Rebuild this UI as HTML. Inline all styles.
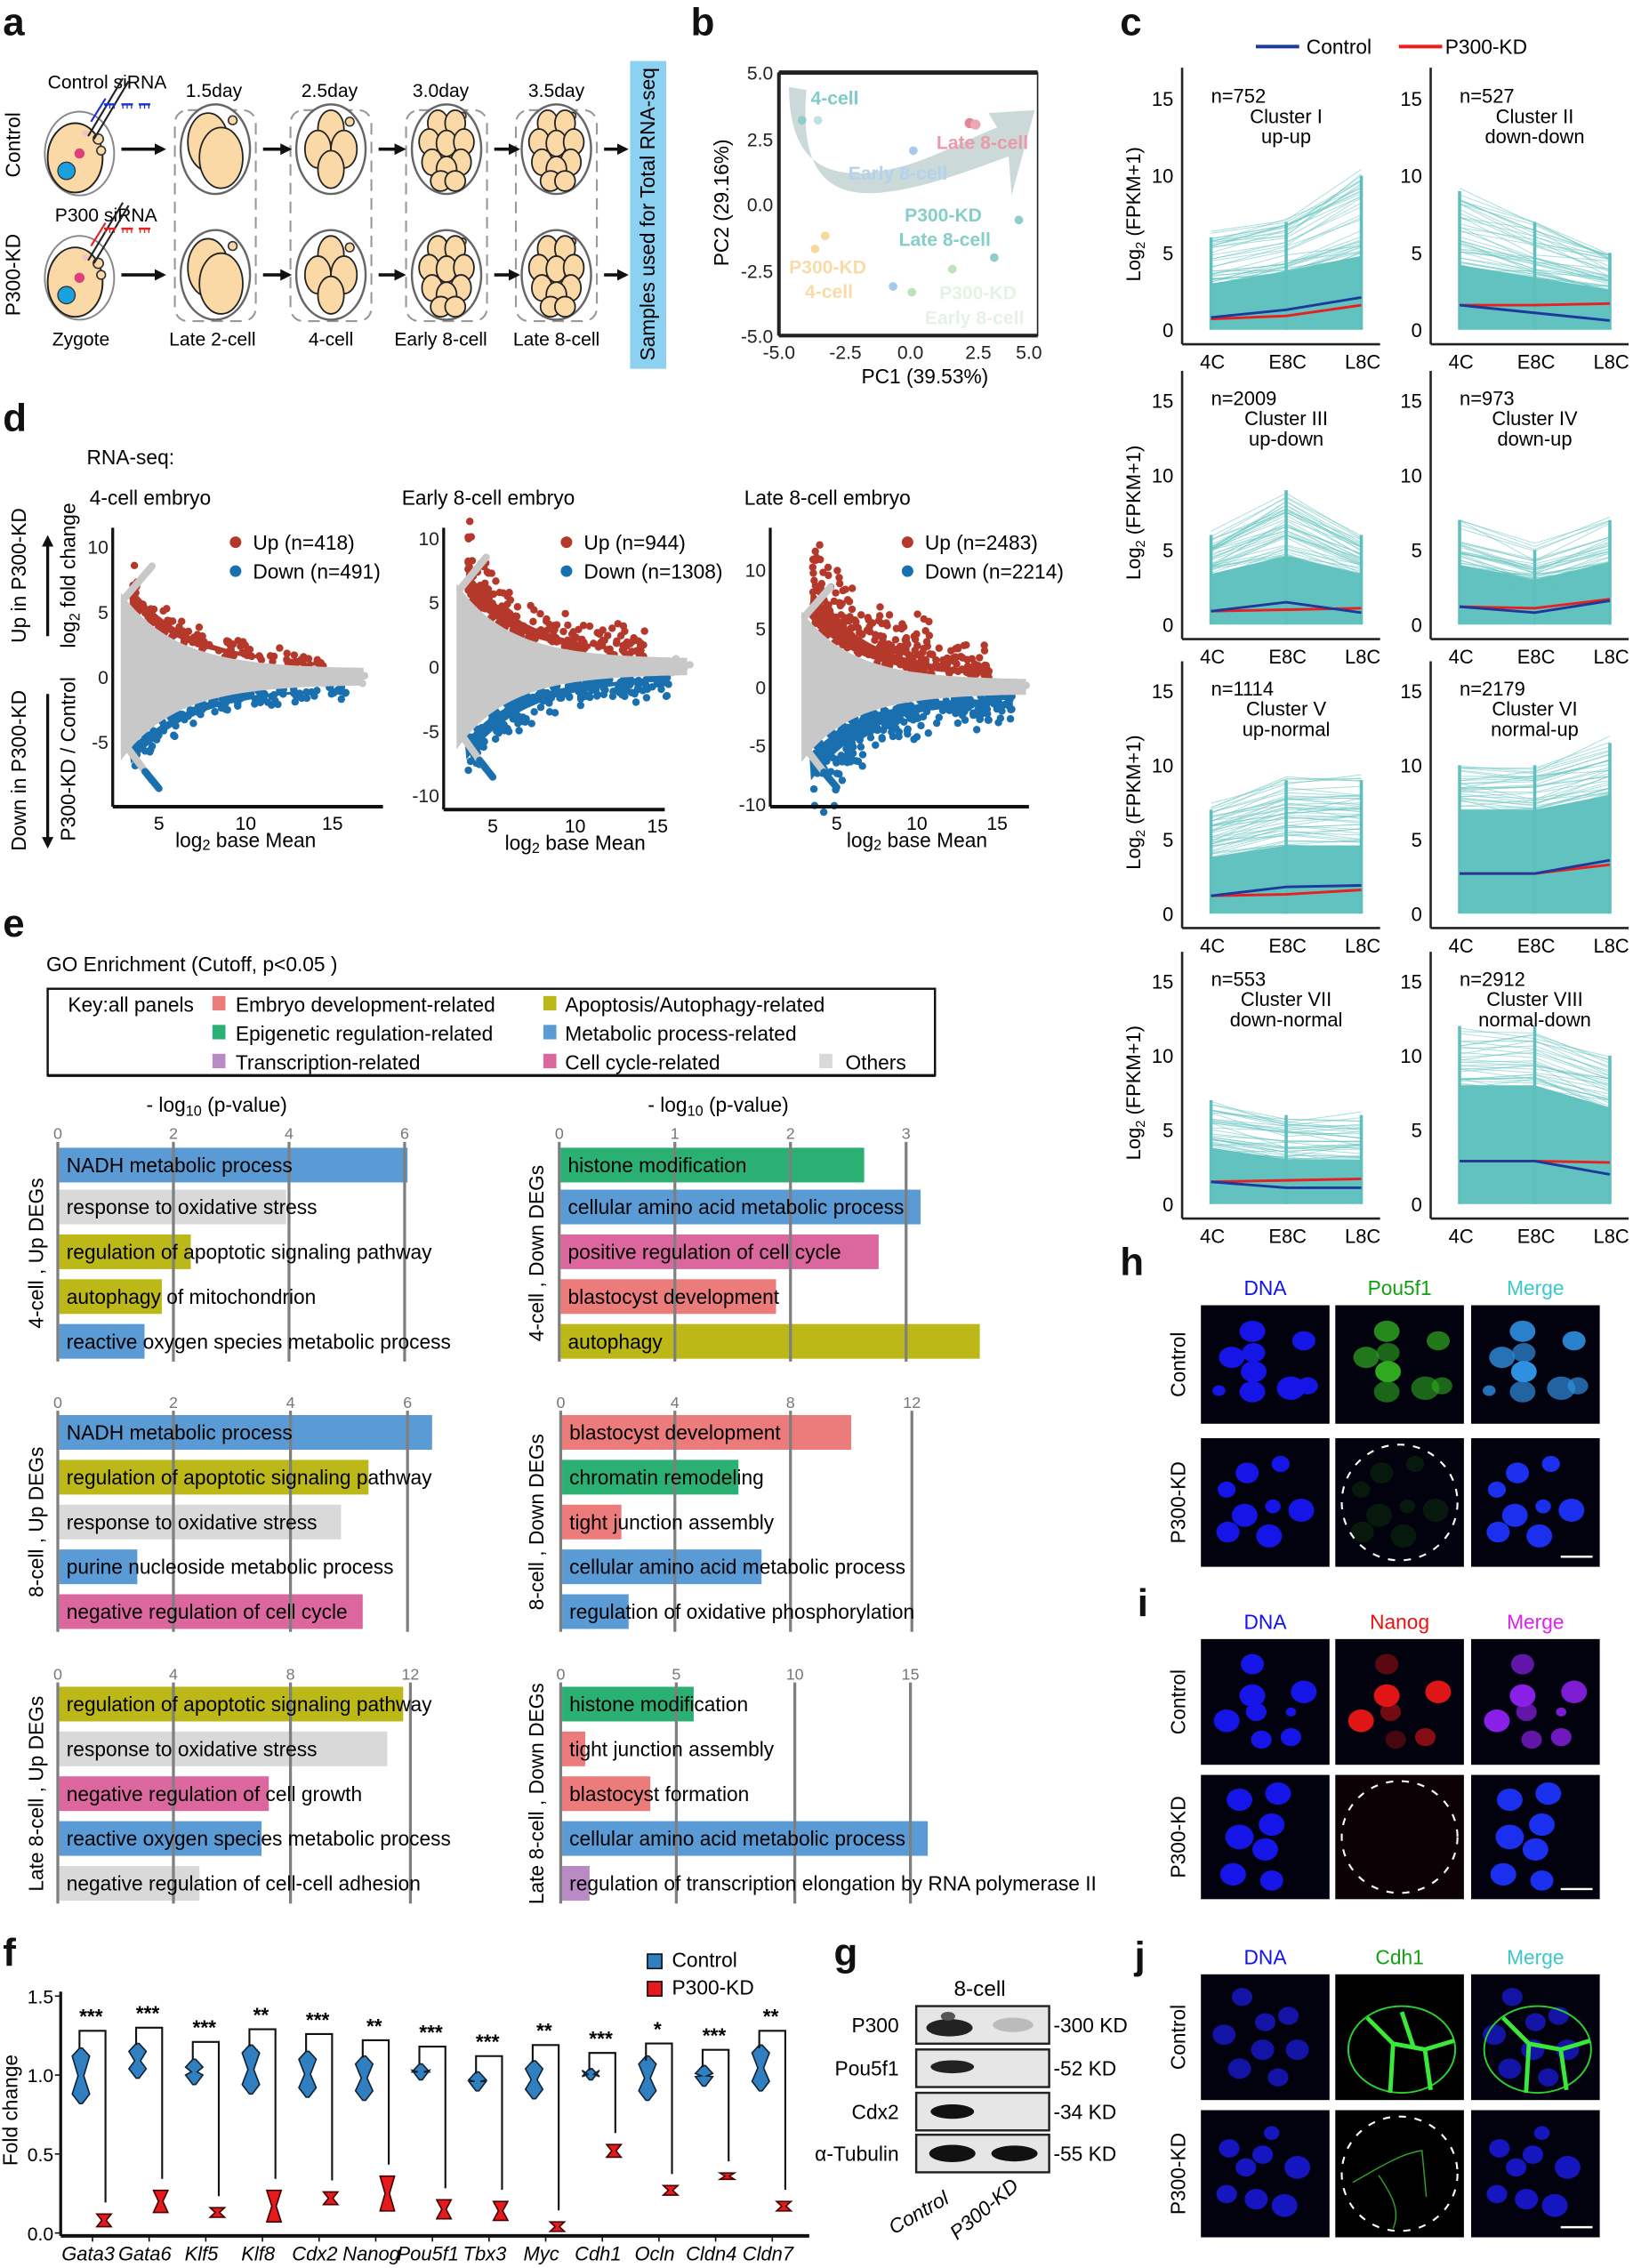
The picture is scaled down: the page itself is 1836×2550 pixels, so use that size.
<!DOCTYPE html>
<html><head><meta charset="utf-8">
<style>
html,body{margin:0;padding:0;background:#fff;}
svg{display:block;}
text{font-family:"Liberation Sans",Arial,sans-serif;}
</style></head>
<body>
<svg id="S" xmlns="http://www.w3.org/2000/svg" width="1836" height="2550" viewBox="0 0 1130 1569">
<defs>
<marker id="ah" markerWidth="8" markerHeight="8" refX="6" refY="4" orient="auto" markerUnits="userSpaceOnUse"><path d="M0,0 L8,4 L0,8 Z" fill="#111"/></marker>
</defs>
<rect width="1130" height="1569" fill="#fff"/>
<g font-weight="bold" font-size="27" fill="#111">
<text x="2" y="24">a</text><text x="478" y="24">b</text><text x="775" y="24">c</text>
<text x="2" y="298">d</text><text x="2" y="648">e</text><text x="2" y="1360">f</text>
<text x="577" y="1360">g</text><text x="775" y="882">h</text><text x="787" y="1118">i</text><text x="785" y="1362">j</text>
</g>

<g id="pa">
<text x="14" y="100" font-size="14" transform="rotate(-90 14 100)" text-anchor="middle">Control</text>
<text x="14" y="190" font-size="14" transform="rotate(-90 14 190)" text-anchor="middle">P300-KD</text>
<text x="33" y="61" font-size="13">Control siRNA</text>
<text x="38" y="153" font-size="13">P300 siRNA</text>
<g font-size="13" text-anchor="middle">
<text x="148" y="67">1.5day</text><text x="228" y="67">2.5day</text><text x="305" y="67">3.0day</text><text x="385" y="67">3.5day</text>
<text x="56" y="239">Zygote</text><text x="147" y="239">Late 2-cell</text><text x="229" y="239">4-cell</text><text x="305" y="239">Early 8-cell</text><text x="385" y="239">Late 8-cell</text>
</g>
<rect x="436" y="42" width="25" height="213" fill="#8dd1f2"/>
<text x="453" y="148" font-size="14" transform="rotate(-90 453 148)" text-anchor="middle">Samples used for Total RNA-seq</text>
</g>

<g id="pb">
<path d="M546,60 C546,110 570,125 610,118 C640,113 660,100 690,88 L684,78 L716,76 L700,135 L698,108 C670,118 640,130 610,133 C560,138 555,100 558,62 Z" fill="#a9bfbf" opacity="0.6"/>
<rect x="539" y="50" width="179" height="182" fill="none" stroke="#222" stroke-width="1"/>
<line x1="539" y1="50" x2="718" y2="50" stroke="#222" stroke-width="3"/>
<line x1="539" y1="50" x2="539" y2="232" stroke="#222" stroke-width="2.5"/>
<line x1="539" y1="232" x2="718" y2="232" stroke="#222" stroke-width="2.5"/>
<g font-size="13" text-anchor="end" fill="#222">
<text x="535" y="55">5.0</text><text x="535" y="101">2.5</text><text x="535" y="146">0.0</text><text x="535" y="192">-2.5</text><text x="535" y="237">-5.0</text>
</g>
<g font-size="13" text-anchor="middle" fill="#222">
<text x="539" y="248">-5.0</text><text x="585" y="248">-2.5</text><text x="630" y="248">0.0</text><text x="677" y="248">2.5</text><text x="712" y="248">5.0</text>
</g>
<text x="640" y="265" font-size="14" text-anchor="middle">PC1 (39.53%)</text>
<text x="504" y="140" font-size="14" transform="rotate(-90 504 140)" text-anchor="middle">PC2 (29.16%)</text>
<g font-size="13" font-weight="bold">
<text x="561" y="72" fill="#7fcaca">4-cell</text>
<text x="648" y="103" fill="#eb9aaa">Late 8-cell</text>
<text x="587" y="124" fill="#b3d2ec">Early 8-cell</text>
<text x="626" y="153" fill="#86cfc9">P300-KD</text>
<text x="622" y="170" fill="#86cfc9">Late 8-cell</text>
<text x="546" y="189" fill="#f8dca8">P300-KD</text>
<text x="557" y="206" fill="#f8dca8">4-cell</text>
<text x="650" y="207" fill="#e4f3e4">P300-KD</text>
<text x="640" y="224" fill="#e4f3e4">Early 8-cell</text>
</g>
<g>
<circle cx="555" cy="83" r="3" fill="#8fcccc"/><circle cx="566" cy="83" r="3" fill="#bfe3e3"/>
<circle cx="671" cy="85" r="3.5" fill="#e08898"/><circle cx="675" cy="86" r="3.5" fill="#eba8b4"/>
<circle cx="632" cy="104" r="3" fill="#a8c8ec"/>
<circle cx="705" cy="152" r="3" fill="#8fcccc"/><circle cx="688" cy="178" r="3" fill="#8fcccc"/>
<circle cx="571" cy="163" r="3" fill="#f7d9a0"/><circle cx="564" cy="172" r="3" fill="#f7d9a0"/>
<circle cx="659" cy="186" r="3" fill="#bde3bd"/><circle cx="618" cy="198" r="3" fill="#a8c8ec"/><circle cx="631" cy="202" r="3" fill="#bde3bd"/>
</g>
</g>

<line x1="869" y1="32" x2="899" y2="32" stroke="#1d3a9a" stroke-width="2.5"/>
<text x="904" y="37" font-size="14">Control</text>
<line x1="968" y1="32" x2="998" y2="32" stroke="#e8201f" stroke-width="2.5"/>
<text x="1000" y="37" font-size="14">P300-KD</text>
<g id="pc"></g>

<text x="60" y="321" font-size="14">RNA-seq:</text>
<text x="62" y="349" font-size="14">4-cell embryo</text>
<text x="278" y="349" font-size="14">Early 8-cell embryo</text>
<text x="515" y="349" font-size="14">Late 8-cell embryo</text>
<text x="18" y="398" font-size="14" transform="rotate(-90 18 398)" text-anchor="middle">Up in P300-KD</text>
<text x="18" y="533" font-size="14" transform="rotate(-90 18 533)" text-anchor="middle">Down in P300-KD</text>
<line x1="33" y1="440" x2="33" y2="372" stroke="#111" stroke-width="2" marker-end="url(#ah)"/>
<line x1="33" y1="480" x2="33" y2="585" stroke="#111" stroke-width="2" marker-end="url(#ah)"/>
<text x="52" y="398" font-size="14" transform="rotate(-90 52 398)" text-anchor="middle">log<tspan font-size="10" dy="3">2</tspan><tspan dy="-3"> fold change</tspan></text>
<text x="52" y="525" font-size="14" transform="rotate(-90 52 525)" text-anchor="middle">P300-KD / Control</text>
<g id="pd"></g>

<text x="32" y="672" font-size="14">GO Enrichment (Cutoff, p&lt;0.05 )</text>
<rect x="33" y="684" width="614" height="60" fill="#fff" stroke="#111" stroke-width="1.5"/>
<line x1="33" y1="744" x2="647" y2="744" stroke="#111" stroke-width="2"/>
<g font-size="14">
<text x="47" y="700">Key:all panels</text>
<rect x="147" y="689" width="9" height="10" fill="#ec7b7b"/><text x="163" y="700">Embryo development-related</text>
<rect x="376" y="689" width="9" height="10" fill="#bcb817"/><text x="391" y="700">Apoptosis/Autophagy-related</text>
<rect x="147" y="709" width="9" height="10" fill="#2bb074"/><text x="163" y="720">Epigenetic regulation-related</text>
<rect x="376" y="709" width="9" height="10" fill="#5b9bd5"/><text x="391" y="720">Metabolic process-related</text>
<rect x="147" y="729" width="9" height="10" fill="#b98bc4"/><text x="163" y="740">Transcription-related</text>
<rect x="376" y="729" width="9" height="10" fill="#db679e"/><text x="391" y="740">Cell cycle-related</text>
<rect x="567" y="729" width="9" height="10" fill="#d9d9d9"/><text x="585" y="740">Others</text>
</g>
<text x="150" y="769" font-size="14" text-anchor="middle">- log<tspan font-size="10" dy="3">10</tspan><tspan dy="-3"> (p-value)</tspan></text>
<text x="497" y="769" font-size="14" text-anchor="middle">- log<tspan font-size="10" dy="3">10</tspan><tspan dy="-3"> (p-value)</tspan></text>
<g id="pe"></g>

<rect x="448" y="1352" width="10" height="10" fill="#2f7fc1" stroke="#111" stroke-width="1"/>
<text x="465" y="1361" font-size="14">Control</text>
<rect x="448" y="1371" width="10" height="10" fill="#e41a1c" stroke="#111" stroke-width="1"/>
<text x="465" y="1380" font-size="14">P300-KD</text>
<text x="12" y="1460" font-size="14" transform="rotate(-90 12 1460)" text-anchor="middle">Fold change</text>
<g id="pf"></g>

<text x="678" y="1381" font-size="15" text-anchor="middle">8-cell</text>
<g id="pg"></g>

<g id="phij"></g>

<g id="pa2"></g>
</svg>
<script>
(function(){
var seed=12345;function R(){seed=(seed*16807)%2147483647;return (seed-1)/2147483646;}
function G(){return (R()+R()+R()+R()-2)/1.15;}
function set(id,s){document.getElementById(id).innerHTML=s;}
function zyg(cx,cy,col){
 var o='<ellipse cx="'+cx+'" cy="'+cy+'" rx="24" ry="29" fill="#fff" stroke="#888" stroke-width="1.2"/>';
 o+='<ellipse cx="'+(cx-3)+'" cy="'+(cy+3)+'" rx="19" ry="24" fill="#fad9a6" stroke="#222" stroke-width="1.2"/>';
 o+='<circle cx="'+(cx+13)+'" cy="'+(cy-10)+'" r="3.5" fill="#fad9a6" stroke="#333"/><circle cx="'+(cx+15)+'" cy="'+(cy-2)+'" r="3" fill="#fad9a6" stroke="#333"/>';
 o+='<circle cx="'+(cx-9)+'" cy="'+(cy+12)+'" r="6" fill="#1aa0de" stroke="#333" stroke-width="0.8"/>';
 o+='<circle cx="'+(cx+0)+'" cy="'+(cy)+'" r="3.5" fill="#e0407a"/>';
 o+='<circle cx="'+(cx+4)+'" cy="'+(cy-14)+'" r="2" fill="#f6c0c8"/>';
 o+='<line x1="'+(cx+6)+'" y1="'+(cy-12)+'" x2="'+(cx+30)+'" y2="'+(cy-52)+'" stroke="#222" stroke-width="1.3"/>';
 o+='<line x1="'+(cx+10)+'" y1="'+(cy-10)+'" x2="'+(cx+34)+'" y2="'+(cy-50)+'" stroke="#222" stroke-width="1.3"/>';
 o+='<line x1="'+(cx+8)+'" y1="'+(cy-22)+'" x2="'+(cx+18)+'" y2="'+(cy-38)+'" stroke="'+col+'" stroke-width="1.3"/>';
 for(var k=0;k<3;k++){var xx=cx+17+k*12;var yy=cy-34;o+='<line x1="'+xx+'" y1="'+yy+'" x2="'+(xx+8)+'" y2="'+yy+'" stroke="'+col+'" stroke-width="1.5"/>';
  for(var j=0;j<3;j++)o+='<line x1="'+(xx+1+j*3)+'" y1="'+yy+'" x2="'+(xx+1+j*3)+'" y2="'+(yy+3)+'" stroke="'+col+'" stroke-width="0.8"/>';}
 return o;
}
function emb(cx,cy,type){
 var o='<ellipse cx="'+cx+'" cy="'+cy+'" rx="24" ry="31" fill="#fff" stroke="#666" stroke-width="1.5"/>';
 var cells=[];
 if(type==2){cells=[[-5,-5,14,20],[4,6,15,21]];o+='<circle cx="'+(cx+12)+'" cy="'+(cy-20)+'" r="3" fill="#fad9a6" stroke="#333"/>';}
 else if(type==4){cells=[[0,-14,9,13],[-9,0,9,13],[9,0,9,13],[0,14,9,13]];o+='<circle cx="'+(cx+13)+'" cy="'+(cy-19)+'" r="3" fill="#fad9a6" stroke="#333"/>';}
 else {cells=[[-6,-18,7,9],[6,-18,7,9],[-12,-5,7,9],[0,-4,7,9],[12,-5,7,9],[-10,9,7,9],[10,9,7,9],[0,14,7,9],[-4,22,7,7],[6,22,7,7]];o+='<circle cx="'+(cx+11)+'" cy="'+(cy-23)+'" r="2.5" fill="#fad9a6" stroke="#333"/>';}
 cells.forEach(function(c){o+='<ellipse cx="'+(cx+c[0])+'" cy="'+(cy+c[1])+'" rx="'+c[2]+'" ry="'+c[3]+'" fill="#fad9a6" stroke="#222" stroke-width="1.1"/>';});
 return o;
}
var a='';
a+=zyg(55,106,'#1b2fd8');a+=zyg(55,192,'#e8201f');
var ex=[149,229,309,385],ty=[2,4,8,8];
for(var i=0;i<4;i++){a+='<rect x="'+(ex[i]-28)+'" y="76" width="56" height="146" rx="9" fill="none" stroke="#999" stroke-width="1.3" stroke-dasharray="8,5"/>';
 a+=emb(ex[i],103,ty[i]);a+=emb(ex[i],190,ty[i]);}
var ar=[[84,113],[182,200],[262,279],[342,358],[418,433]];
ar.forEach(function(p){[103,190].forEach(function(y){a+='<line x1="'+p[0]+'" y1="'+y+'" x2="'+p[1]+'" y2="'+y+'" stroke="#111" stroke-width="2.2" marker-end="url(#ah)"/>';});});
set('pa2',a);

var rows=[[228,10.67],[432,10.33],[632,10.27],[833,10.27]];
var cols=[818,990];
var info=[
 ['n=752','Cluster I','up-up',[0.8,1.3,2.1],[0.7,0.9,1.6],'uu'],
 ['n=527','Cluster II','down-down',[1.6,1.1,0.6],[1.6,1.6,1.7],'dd'],
 ['n=2009','Cluster III','up-down',[0.9,1.5,0.8],[0.9,1.0,1.1],'ud'],
 ['n=973','Cluster IV','down-up',[1.2,0.8,1.6],[1.2,1.1,1.7],'du'],
 ['n=1114','Cluster V','up-normal',[1.2,1.8,1.9],[1.2,1.3,1.6],'un'],
 ['n=2179','Cluster VI','normal-up',[2.7,2.7,3.6],[2.7,2.7,3.3],'nu'],
 ['n=553','Cluster VII','down-normal',[1.5,1.1,1.1],[1.5,1.6,1.7],'dn'],
 ['n=2912','Cluster VIII','normal-down',[2.9,2.9,2.0],[2.9,2.9,2.8],'nd']];
var c='';
for(var k=0;k<8;k++){
 var r=rows[Math.floor(k/2)],ox=cols[k%2],z=r[0],u=r[1];
 var xs=[ox+20,ox+72,ox+124];
 function Y(v){return z-v*u;}
 var inf=info[k],p=inf[5];
 var top={uu:[3,3.8,4.8],dd:[4.2,3.4,2.6],ud:[3.4,4.6,3.4],du:[4,3,4.2],un:[3.8,4.6,4.6],nu:[7,7,8],dn:[3.8,3,3],nd:[8,8,6.5]}[p];
 c+='<polygon points="'+xs[0]+','+z+' '+xs[0]+','+Y(top[0])+' '+xs[1]+','+Y(top[1])+' '+xs[2]+','+Y(top[2])+' '+xs[2]+','+z+'" fill="#62c2c0"/>';
 var hi={uu:[6,7,10],dd:[9,7,5],ud:[6,9,6],du:[7,5,7],un:[7,9,9],nu:[10,10,11.5],dn:[7,6,6],nd:[12,12,10]}[p];
 for(var j=0;j<60;j++){
  var f=Math.pow(R(),1.5);var v=[];
  for(var m=0;m<3;m++){v.push(Math.max(0,top[m]*0.7+f*(hi[m]-top[m]*0.7)+G()*0.6));}
  c+='<polyline points="'+xs[0]+','+Y(v[0]).toFixed(1)+' '+xs[1]+','+Y(v[1]).toFixed(1)+' '+xs[2]+','+Y(v[2]).toFixed(1)+'" fill="none" stroke="#62c2c0" stroke-width="0.6" opacity="0.55"/>';
 }
 for(var m=0;m<3;m++){c+='<line x1="'+xs[m]+'" y1="'+z+'" x2="'+xs[m]+'" y2="'+Y(hi[m]).toFixed(1)+'" stroke="#5fbfbd" stroke-width="2.2"/>';}
 var b=inf[3],rd=inf[4];
 c+='<polyline points="'+xs[0]+','+Y(rd[0])+' '+xs[1]+','+Y(rd[1])+' '+xs[2]+','+Y(rd[2])+'" fill="none" stroke="#e8201f" stroke-width="1.8"/>';
 c+='<polyline points="'+xs[0]+','+Y(b[0])+' '+xs[1]+','+Y(b[1])+' '+xs[2]+','+Y(b[2])+'" fill="none" stroke="#1d3a9a" stroke-width="1.8"/>';
 c+='<line x1="'+ox+'" y1="'+(z-17*u)+'" x2="'+ox+'" y2="'+(z+10)+'" stroke="#222" stroke-width="1.6"/>';
 c+='<line x1="'+ox+'" y1="'+(z+10)+'" x2="'+(ox+137)+'" y2="'+(z+10)+'" stroke="#222" stroke-width="1.6"/>';
 [0,5,10,15].forEach(function(t){c+='<text x="'+(ox-6)+'" y="'+(Y(t)+5)+'" font-size="13.5" text-anchor="end">'+t+'</text>';});
 ['4C','E8C','L8C'].forEach(function(t,m){c+='<text x="'+(xs[m]+1)+'" y="'+(z+27)+'" font-size="13.5" text-anchor="middle">'+t+'</text>';});
 c+='<text x="'+(ox+20)+'" y="'+(Y(15)+3)+'" font-size="13.5">'+inf[0]+'</text>';
 c+='<text x="'+(ox+72)+'" y="'+(Y(15)+17)+'" font-size="13.5" text-anchor="middle">'+inf[1]+'</text>';
 c+='<text x="'+(ox+72)+'" y="'+(Y(15)+31)+'" font-size="13.5" text-anchor="middle">'+inf[2]+'</text>';
 if(k%2==0){var yy=z-7.5*u;c+='<text x="789" y="'+yy+'" font-size="13.5" text-anchor="middle" transform="rotate(-90 789 '+yy+')">Log<tspan font-size="9" dy="3">2</tspan><tspan dy="-3"> (FPKM+1)</tspan></text>';}
}
set('pc',c);

var plots=[
 {ox:78,right:265,xb:110,xs:12,z:468,ys:9,ticks:[10,5,0,-5],xax:558,top:365,leg:[163,375],up:'Up (n=418)',dn:'Down (n=491)',dens:1},
 {ox:307,right:460,xb:341,xs:11.4,z:461,ys:8.9,ticks:[10,5,0,-5,-10],xax:560,top:365,leg:[392,375],up:'Up (n=944)',dn:'Down (n=1308)',dens:1.6},
 {ox:533,right:712,xb:579,xs:11.1,z:475,ys:8.1,ticks:[10,5,0,-5,-10],xax:558,top:365,leg:[628,375],up:'Up (n=2483)',dn:'Down (n=2214)',dens:2.4}];
var d='';
plots.forEach(function(P){
 function X(v){return P.xb+(v-5)*P.xs;} function Y(v){return P.z-v*P.ys;}
 function w(x){return 5.5*Math.exp(-(x-3)/3.2)+0.6;}
 var pts=[],pts2=[];
 for(var x=2.8;x<=17;x+=0.4){pts.push(X(x).toFixed(1)+','+Y(w(x)).toFixed(1));pts2.unshift(X(x).toFixed(1)+','+Y(-w(x)).toFixed(1));}
 var g2='';
 var nR=Math.round(120*P.dens);
 for(var i=0;i<nR;i++){var x=3.5+Math.pow(R(),1.4)*11;var y=w(x)+Math.abs(G())*(1.5+3*Math.exp(-(x-3)/4))*P.dens*0.7;
  g2+='<circle cx="'+X(x).toFixed(1)+'" cy="'+Y(y).toFixed(1)+'" r="2.6" fill="#b5392b"/>';}
 for(var i=0;i<nR;i++){var x=3.5+Math.pow(R(),1.2)*12.5;var y=-(w(x)+Math.abs(G())*(1.2+2.5*Math.exp(-(x-3)/4))*P.dens*0.7);
  g2+='<circle cx="'+X(x).toFixed(1)+'" cy="'+Y(y).toFixed(1)+'" r="2.6" fill="#1a6faf"/>';}
 var rb=[],bb=[];
 for(var x=3.3;x<=(P.dens>2?13:11);x+=0.4){rb.push(X(x).toFixed(1)+','+Y(w(x)+0.3).toFixed(1));}
 for(var x=(P.dens>2?13:11);x>=3.3;x-=0.4){rb.push(X(x).toFixed(1)+','+Y(w(x)+0.3+P.dens*1.2*Math.exp(-(x-3)/5)).toFixed(1));}
 for(var x=3.3;x<=(P.dens>2?15:13);x+=0.4){bb.push(X(x).toFixed(1)+','+Y(-w(x)-0.3).toFixed(1));}
 for(var x=(P.dens>2?15:13);x>=3.3;x-=0.4){bb.push(X(x).toFixed(1)+','+Y(-w(x)-0.3-P.dens*1.0*Math.exp(-(x-3)/6)).toFixed(1));}
 d+='<polygon points="'+rb.join(' ')+'" fill="#b5392b"/><polygon points="'+bb.join(' ')+'" fill="#1a6faf"/>';
 d+=g2;
 d+='<line x1="'+X(3)+'" y1="'+Y(6)+'" x2="'+X(4.6)+'" y2="'+Y(8.5)+'" stroke="#c8c8c8" stroke-width="5" stroke-linecap="round"/>';
 d+='<line x1="'+X(3.2)+'" y1="'+Y(-5.5)+'" x2="'+X(4.6)+'" y2="'+Y(-8)+'" stroke="#c8c8c8" stroke-width="5" stroke-linecap="round"/>';
 d+='<line x1="'+X(4.2)+'" y1="'+Y(-7.3)+'" x2="'+X(5.0)+'" y2="'+Y(-8.6)+'" stroke="#1a6faf" stroke-width="5" stroke-linecap="round"/>';
 d+='<polygon points="'+pts.join(' ')+' '+pts2.join(' ')+'" fill="#c8c8c8"/>';
 for(var i=0;i<40;i++){var x=3+R()*14;var y=G()*w(x)*0.6;d+='<circle cx="'+X(x).toFixed(1)+'" cy="'+Y(y).toFixed(1)+'" r="2.6" fill="#c8c8c8"/>';}
 d+='<line x1="'+P.ox+'" y1="'+P.top+'" x2="'+P.ox+'" y2="'+P.xax+'" stroke="#111" stroke-width="2"/>';
 d+='<line x1="'+P.ox+'" y1="'+P.xax+'" x2="'+P.right+'" y2="'+P.xax+'" stroke="#111" stroke-width="2.5"/>';
 P.ticks.forEach(function(t){d+='<text x="'+(P.ox-3)+'" y="'+(Y(t)+5)+'" font-size="13" text-anchor="end" fill="#222">'+t+'</text>';});
 [5,10,15].forEach(function(t){d+='<text x="'+X(t)+'" y="'+(P.xax+16)+'" font-size="13" text-anchor="middle">'+t+'</text>';});
 d+='<text x="'+X(10)+'" y="'+(P.xax+28)+'" font-size="14" text-anchor="middle">log<tspan font-size="10" dy="2">2</tspan><tspan dy="-2"> base Mean</tspan></text>';
 d+='<circle cx="'+P.leg[0]+'" cy="'+P.leg[1]+'" r="4" fill="#b5392b"/><text x="'+(P.leg[0]+12)+'" y="'+(P.leg[1]+5)+'" font-size="14">'+P.up+'</text>';
 d+='<circle cx="'+P.leg[0]+'" cy="'+(P.leg[1]+20)+'" r="4" fill="#1a6faf"/><text x="'+(P.leg[0]+12)+'" y="'+(P.leg[1]+25)+'" font-size="14">'+P.dn+'</text>';
});
set('pd',d);

var C={b:'#5b9bd5',g:'#d9d9d9',o:'#bcb817',gr:'#2bb074',p:'#db679e',s:'#ec7b7b',pu:'#b98bc4'};
var blocks=[
 {x0:40,ticks:[[0,40],[2,120],[4,200],[6,280]],ty:788,bars:[806,835,866,897,928],label:'4-cell , Up DEGs',lx:30,
  items:[['NADH metabolic process',C.b,282],['response to oxidative stress',C.g,198],['regulation of apoptotic signaling pathway',C.o,132],['autophagy of mitochondrion',C.o,112],['reactive oxygen species metabolic process',C.b,100]]},
 {x0:387,ticks:[[0,387],[1,467],[2,547],[3,627]],ty:788,bars:[806,835,866,897,928],label:'4-cell , Down DEGs',lx:376,
  items:[['histone modification',C.gr,598],['cellular amino acid metabolic process',C.b,637],['positive regulation of cell cycle',C.p,608],['blastocyst development',C.s,537],['autophagy',C.o,678]]},
 {x0:40,ticks:[[0,40],[2,120],[4,201],[6,282]],ty:974,bars:[991,1022,1053,1084,1115],label:'8-cell , Up DEGs',lx:30,
  items:[['NADH metabolic process',C.b,299],['regulation of apoptotic signaling pathway',C.o,255],['response to oxidative stress',C.g,236],['purine nucleoside metabolic process',C.b,95],['negative regulation of cell cycle',C.p,251]]},
 {x0:388,ticks:[[0,388],[4,467],[8,547],[12,631]],ty:974,bars:[991,1022,1053,1084,1115],label:'8-cell , Down DEGs',lx:376,
  items:[['blastocyst development',C.s,589],['chromatin remodeling',C.gr,511],['tight junction assembly',C.s,430],['cellular amino acid metabolic process',C.b,527],['regulation of oxidative phosphorylation',C.b,435]]},
 {x0:40,ticks:[[0,40],[4,120],[8,201],[12,284]],ty:1162,bars:[1179,1210,1241,1272,1303],label:'Late 8-cell , Up DEGs',lx:30,
  items:[['regulation of apoptotic signaling pathway',C.o,279],['response to oxidative stress',C.g,268],['negative regulation of cell growth',C.p,186],['reactive oxygen species metabolic process',C.b,181],['negative regulation of cell-cell adhesion',C.g,138]]},
 {x0:388,ticks:[[0,388],[5,468],[10,550],[15,630]],ty:1162,bars:[1179,1210,1241,1272,1303],label:'Late 8-cell , Down DEGs',lx:376,
  items:[['histone modification',C.gr,480],['tight junction assembly',C.s,405],['blastocyst formation',C.s,450],['cellular amino acid metabolic process',C.b,642],['regulation of transcription elongation by RNA polymerase II',C.pu,408]]}];
var e='';
blocks.forEach(function(B){
 var bot=B.bars[4]+14;
 B.items.forEach(function(it,i){e+='<rect x="'+(B.x0+1)+'" y="'+(B.bars[i]-12)+'" width="'+(it[2]-B.x0-1)+'" height="24" fill="'+it[1]+'"/>';});
 B.ticks.forEach(function(t){e+='<line x1="'+t[1]+'" y1="'+(B.ty+2)+'" x2="'+t[1]+'" y2="'+bot+'" stroke="#7f7f7f" stroke-width="2"/>';
  e+='<text x="'+t[1]+'" y="'+B.ty+'" font-size="11" text-anchor="middle" fill="#777">'+t[0]+'</text>';});
 B.items.forEach(function(it,i){e+='<text x="'+(B.x0+6)+'" y="'+(B.bars[i]+5)+'" font-size="14">'+it[0]+'</text>';});
 var cy=(B.bars[0]+B.bars[4])/2;
 e+='<text x="'+B.lx+'" y="'+cy+'" font-size="14" text-anchor="middle" transform="rotate(-90 '+B.lx+' '+cy+')">'+B.label+'</text>';
});
set('pe',e);

var f='';
function FY(v){return 1545-v*109.3;}
f+='<line x1="42" y1="1378" x2="42" y2="1547" stroke="#111" stroke-width="2"/>';
f+='<line x1="42" y1="1547" x2="560" y2="1547" stroke="#111" stroke-width="2.5"/>';
[['1.5',1.5],['1.0',1],['0.5',0.5],['0.0',0]].forEach(function(t){f+='<text x="37" y="'+(FY(t[1])+5)+'" font-size="13" text-anchor="end">'+t[0]+'</text>';f+='<line x1="38" y1="'+FY(t[1])+'" x2="42" y2="'+FY(t[1])+'" stroke="#111"/>';});
var genes=['Gata3','Gata6','Klf5','Klf8','Cdx2','Nanog','Pou5f1','Tbx3','Myc','Cdh1','Ocln','Cldn4','Cldn7'];
var kd=[0.08,0.2,0.13,0.17,0.22,0.25,0.15,0.14,0.04,0.52,0.27,0.36,0.17];
var kdr=[0.04,0.07,0.03,0.1,0.04,0.11,0.06,0.06,0.03,0.04,0.03,0.02,0.03];
var cr=[[0.82,1.17],[0.98,1.2],[0.94,1.1],[0.88,1.19],[0.86,1.15],[0.84,1.12],[0.97,1.07],[0.9,1.02],[0.85,1.09],[0.97,1.04],[0.84,1.12],[0.93,1.06],[0.9,1.19]];
var stars=['***','***','***','**','***','**','***','***','**','***','*','***','**'];
var bt=[1.28,1.3,1.21,1.29,1.26,1.22,1.18,1.12,1.19,1.14,1.2,1.16,1.28];
for(var i=0;i<13;i++){
 var cx=56+i*39.2,kx=cx+16;
 var a0=cr[i][0],a1=cr[i][1],mid=(a0+a1)/2;
 f+='<path d="M'+(cx-1)+','+FY(a1)+' L'+(cx+1)+','+FY(a1)+' L'+(cx+6)+','+FY(a1-0.05)+' L'+(cx+2)+','+FY(mid)+' L'+(cx+6)+','+FY(a0+0.06)+' L'+(cx+1)+','+FY(a0)+' L'+(cx-1)+','+FY(a0)+' L'+(cx-6)+','+FY(a0+0.06)+' L'+(cx-2)+','+FY(mid)+' L'+(cx-6)+','+FY(a1-0.05)+' Z" fill="#2f7fc1" stroke="#123" stroke-width="1"/>';
 var k0=kd[i]-kdr[i],k1=kd[i]+kdr[i];
 f+='<path d="M'+(kx-5)+','+FY(k1)+' L'+(kx+5)+','+FY(k1)+' L'+(kx+1.5)+','+FY(kd[i])+' L'+(kx+5)+','+FY(k0)+' L'+(kx-5)+','+FY(k0)+' L'+(kx-1.5)+','+FY(kd[i])+' Z" fill="#e41a1c" stroke="#400" stroke-width="1"/>';
 var by=FY(bt[i]);
 f+='<polyline points="'+(cx-1)+','+(by+12)+' '+(cx-1)+','+by+' '+(kx+1)+','+by+' '+(kx+1)+','+(FY(k1)-8)+'" fill="none" stroke="#111" stroke-width="1.3"/>';
 f+='<text x="'+(cx+7)+'" y="'+(by-5)+'" font-size="14" text-anchor="middle" font-weight="bold">'+stars[i]+'</text>';
 f+='<line x1="'+(cx+8)+'" y1="1547" x2="'+(cx+8)+'" y2="1551" stroke="#111"/>';
 f+='<text x="'+(cx+5)+'" y="1564" font-size="13.5" font-style="italic" text-anchor="middle">'+genes[i]+'</text>';
}
set('pf',f);

var g='';var rowsG=[[1388,'P300','-300 KD'],[1418,'Pou5f1','-52 KD'],[1448,'Cdx2','-34 KD'],[1477,'α-Tubulin','-55 KD']];
rowsG.forEach(function(r,i){
 g+='<rect x="634" y="'+r[0]+'" width="92" height="26" fill="#e6e6e6" stroke="#222" stroke-width="1.5"/>';
 g+='<text x="622" y="'+(r[0]+18)+'" font-size="14" text-anchor="end">'+r[1]+'</text>';
 g+='<text x="729" y="'+(r[0]+18)+'" font-size="14">'+r[2]+'</text>';
});
g+='<ellipse cx="657" cy="1403" rx="16" ry="6" fill="#222"/><ellipse cx="656" cy="1395" rx="5" ry="3" fill="#555"/><ellipse cx="701" cy="1401" rx="14" ry="5" fill="#bbb"/>';
g+='<ellipse cx="659" cy="1430" rx="15" ry="4.5" fill="#222"/>';
g+='<ellipse cx="659" cy="1461" rx="15" ry="5" fill="#111"/>';
g+='<ellipse cx="659" cy="1490" rx="16" ry="6" fill="#111"/><ellipse cx="702" cy="1490" rx="16" ry="5.5" fill="#111"/>';
g+='<text x="638" y="1535" font-size="14" font-style="italic" text-anchor="middle" transform="rotate(-30 638 1535)">Control</text>';
g+='<text x="684" y="1532" font-size="14" font-style="italic" text-anchor="middle" transform="rotate(-40 684 1532)">P300-KD</text>';
set('pg',g);

var h='';
var colX=[831,924,1018],W=89;
function hdr(y,names,colors){names.forEach(function(n,i){h+='<text x="'+(colX[i]+W/2)+'" y="'+y+'" font-size="14" text-anchor="middle" fill="'+colors[i]+'">'+n+'</text>';});}
function rowLab(y0,y1,t){var cy=(y0+y1)/2;h+='<text x="820" y="'+cy+'" font-size="14" text-anchor="middle" transform="rotate(-90 820 '+cy+')">'+t+'</text>';}
var nucA=[[0.4,0.22,0.1],[0.8,0.3,0.09],[0.24,0.44,0.1],[0.41,0.4,0.09],[0.41,0.56,0.1],[0.4,0.73,0.1],[0.7,0.7,0.11],[0.83,0.68,0.08],[0.14,0.72,0.05]];
var nucB=[[0.36,0.27,0.09],[0.62,0.2,0.07],[0.2,0.4,0.07],[0.34,0.6,0.1],[0.56,0.53,0.06],[0.78,0.56,0.1],[0.21,0.73,0.09],[0.53,0.76,0.1]];
function panel(x,y,hh,nucs,fill,op){var o='<rect x="'+x+'" y="'+y+'" width="'+W+'" height="'+hh+'" fill="#02020f"/>';
 nucs.forEach(function(n,idx){var o2=op?op[idx%op.length]:1;o+='<ellipse cx="'+(x+n[0]*W)+'" cy="'+(y+n[1]*hh)+'" rx="'+(n[2]*W)+'" ry="'+(n[2]*hh*0.9)+'" fill="'+fill+'" opacity="'+o2+'"/>';});return o;}
function dashed(x,y,hh){return '<ellipse cx="'+(x+W/2)+'" cy="'+(y+hh/2)+'" rx="'+(W*0.45)+'" ry="'+(hh*0.45)+'" fill="none" stroke="#fff" stroke-width="1.3" stroke-dasharray="5,6"/>';}
function scale(x,y,hh){return '<line x1="'+(x+W-27)+'" y1="'+(y+hh-7)+'" x2="'+(x+W-5)+'" y2="'+(y+hh-7)+'" stroke="#fff" stroke-width="1.5"/>';}
hdr(896,['DNA','Pou5f1','Merge'],['#1111ee','#11a011','#3cc8c8']);
var r1=[903,985],r2=[995,1084];
rowLab(r1[0],r1[1],'Control');rowLab(r2[0],r2[1],'P300-KD');
h+=panel(colX[0],r1[0],82,nucA,'#1515e8');
h+=panel(colX[1],r1[0],82,nucA,'#2faa20',[0.8,0.7,0.7,0.6,1,0.6,0.6,0.6,0]);
h+=panel(colX[2],r1[0],82,nucA,'#2f8fe0',[0.9,0.9,0.8,0.7,1,0.7,0.7,0.7,0.8]);
h+=panel(colX[0],r2[0],89,nucB,'#1515e8');
h+=panel(colX[1],r2[0],89,nucB,'#0c300c',[0.5]);h+=dashed(colX[1],r2[0],89);
h+=panel(colX[2],r2[0],89,nucB,'#1a30ee');h+=scale(colX[2],r2[0],89);
hdr(1127,['DNA','Nanog','Merge'],['#1111ee','#ee1111','#dd22ee']);
var r3=[1134,1221],r4=[1228,1314];
rowLab(r3[0],r3[1],'Control');rowLab(r4[0],r4[1],'P300-KD');
var nucC=[[0.4,0.2,0.09],[0.4,0.45,0.1],[0.8,0.42,0.1],[0.43,0.58,0.08],[0.2,0.65,0.1],[0.47,0.8,0.08],[0.7,0.78,0.08],[0.7,0.58,0.04]];
var nucD=[[0.3,0.2,0.1],[0.6,0.15,0.1],[0.55,0.4,0.1],[0.3,0.5,0.11],[0.5,0.6,0.1],[0.25,0.8,0.1],[0.55,0.85,0.09]];
h+=panel(colX[0],r3[0],87,nucC,'#1515e8');
h+=panel(colX[1],r3[0],87,nucC,'#e01515',[0.4,1,1,0.5,1,0.3,0.6,0]);
h+=panel(colX[2],r3[0],87,nucC,'#8a20e8',[0.7,1,0.9,0.7,1,0.7,0.8,0.9]);
h+=panel(colX[0],r4[0],86,nucD,'#1515e8');
h+='<rect x="'+colX[1]+'" y="'+r4[0]+'" width="'+W+'" height="86" fill="#0c0205"/>'+dashed(colX[1],r4[0],86);
h+=panel(colX[2],r4[0],86,nucD,'#1a30ee');h+=scale(colX[2],r4[0],86);
hdr(1359,['DNA','Cdh1','Merge'],['#1111ee','#11a011','#3cc8c8']);
var r5=[1366,1453],r6=[1460,1548];
rowLab(r5[0],r5[1],'Control');rowLab(r6[0],r6[1],'P300-KD');
var nucE=[[0.32,0.18,0.08],[0.5,0.38,0.08],[0.68,0.33,0.08],[0.18,0.48,0.09],[0.48,0.6,0.09],[0.75,0.6,0.09],[0.3,0.75,0.09],[0.6,0.82,0.08]];
h+=panel(colX[0],r5[0],87,nucE,'#1a1ad8',[0.75]);
var cx=colX[1],cy=r5[0];
h+='<rect x="'+cx+'" y="'+cy+'" width="'+W+'" height="87" fill="#000"/>';
h+='<ellipse cx="'+(cx+46)+'" cy="'+(cy+52)+'" rx="37" ry="30" fill="none" stroke="#2ed02e" stroke-width="1.2"/>';
h+='<path d="M'+(cx+22)+','+(cy+30)+' L'+(cx+40)+','+(cy+48)+' L'+(cx+38)+','+(cy+82)+' M'+(cx+40)+','+(cy+48)+' L'+(cx+62)+','+(cy+52)+' L'+(cx+66)+','+(cy+80)+' M'+(cx+62)+','+(cy+52)+' L'+(cx+82)+','+(cy+46)+' M'+(cx+46)+','+(cy+26)+' L'+(cx+54)+','+(cy+50)+'" fill="none" stroke="#3ae83a" stroke-width="3"/>';
h+=panel(colX[2],r5[0],87,nucE,'#1a1ad8',[0.75]);
cx=colX[2];
h+='<ellipse cx="'+(cx+46)+'" cy="'+(cy+52)+'" rx="37" ry="30" fill="none" stroke="#2ed02e" stroke-width="1.2"/>';
h+='<path d="M'+(cx+22)+','+(cy+30)+' L'+(cx+40)+','+(cy+48)+' L'+(cx+38)+','+(cy+82)+' M'+(cx+40)+','+(cy+48)+' L'+(cx+62)+','+(cy+52)+' L'+(cx+66)+','+(cy+80)+' M'+(cx+62)+','+(cy+52)+' L'+(cx+82)+','+(cy+46)+'" fill="none" stroke="#3ae83a" stroke-width="3"/>';
var nucF=[[0.22,0.3,0.08],[0.55,0.18,0.06],[0.48,0.35,0.08],[0.35,0.45,0.08],[0.75,0.45,0.1],[0.2,0.66,0.08],[0.43,0.7,0.09],[0.65,0.75,0.1]];
h+=panel(colX[0],r6[0],88,nucF,'#1a1ae0',[0.85]);
cx=colX[1];cy=r6[0];
h+='<rect x="'+cx+'" y="'+cy+'" width="'+W+'" height="88" fill="#000"/>'+dashed(cx,cy,88);
h+='<path d="M'+(cx+12)+','+(cy+50)+' C'+(cx+30)+','+(cy+40)+' '+(cx+45)+','+(cy+30)+' '+(cx+60)+','+(cy+28)+' L'+(cx+63)+','+(cy+60)+' M'+(cx+30)+','+(cy+45)+' C'+(cx+40)+','+(cy+60)+' '+(cx+45)+','+(cy+70)+' '+(cx+40)+','+(cy+82)+'" fill="none" stroke="#2ea02e" stroke-width="0.9"/>';
h+=panel(colX[2],r6[0],88,nucF,'#1a1ae0',[0.85]);h+=scale(colX[2],r6[0],88);
set('phij',h);
})();
</script>
</body></html>
